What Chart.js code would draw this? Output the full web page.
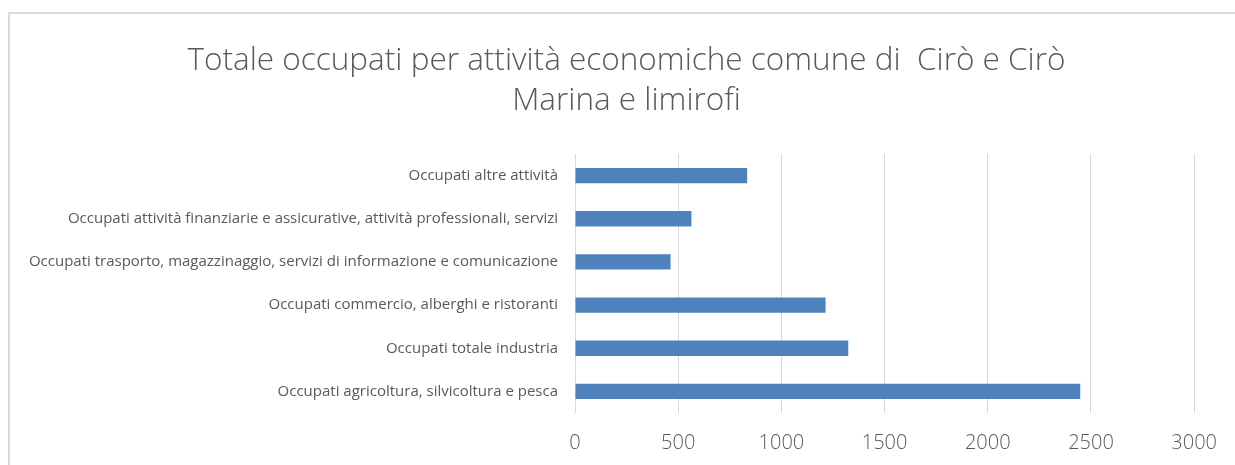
<!DOCTYPE html>
<html>
<head>
<meta charset="utf-8">
<script src="https://cdn.jsdelivr.net/npm/chart.js@4/dist/chart.umd.min.js"></script>
<style>
	html, body { margin: 0; padding: 0; background: #fff; overflow: hidden; width: 1235px; height: 465px; }
	.edge { position: absolute; background: #d9d9d9; }
	#edge-top  { left: 8px; top: 12px; width: 1227px; height: 2px; }
	#edge-left { left: 8px; top: 12px; width: 2px; height: 453px; }
	#wrap { position: absolute; left: 0; top: 0; width: 1235px; height: 465px; }
</style>
</head>
<body>
<div class="edge" id="edge-top"></div>
<div class="edge" id="edge-left"></div>
<div id="wrap"><canvas id="chart"></canvas></div>
<script>
// data
const categories = [
	'Occupati altre attività',
	'Occupati attività finanziarie e assicurative, attività professionali, servizi',
	'Occupati trasporto, magazzinaggio, servizi di informazione e comunicazione',
	'Occupati commercio, alberghi e ristoranti',
	'Occupati totale industria',
	'Occupati agricoltura, silvicoltura e pesca',
];
const occupati = [834, 564, 463, 1214, 1324, 2448];
const titleLines = ['Totale occupati per attività economiche comune di  Cirò e Cirò', 'Marina e limirofi'];

const grey = '#595959';

// the title in the picture is centred a bit right of the canvas middle
const shiftTitle = {
	id: 'shiftTitle',
	afterLayout (chart) {
		if (chart.titleBlock) {
			chart.titleBlock.left = 56;
		}
	},
};

new Chart('chart', {
	type: 'bar',
	data: {
		labels: categories,
		datasets: [{
			data: occupati,
			backgroundColor: '#4f81bd',
			borderWidth: 0,
			barPercentage: 0.355,
			categoryPercentage: 1,
		}],
	},
	options: {
		indexAxis: 'y',
		responsive: true,
		maintainAspectRatio: false,
		animation: false,
		layout: { padding: { left: 0, right: 38, top: 0, bottom: 0 } },
		plugins: {
			legend: { display: false },
			tooltip: { enabled: false },
			title: {
				display: true,
				text: titleLines,
				color: grey,
				font: { family: '"Open Sans", sans-serif', size: 31.5, weight: 300, lineHeight: 1.27 },
				padding: { top: 41, bottom: 33 },
			},
		},
		scales: {
			x: {
				min: 0,
				max: 3000,
				ticks: {
					stepSize: 500,
					color: grey,
					padding: 18,
					font: { family: '"Open Sans", sans-serif', size: 20, weight: 300 },
					callback: (v) => String(v),
				},
				grid: { color: '#d9d9d9', lineWidth: 1, drawTicks: false },
				border: { display: false },
				afterFit (scale) { scale.height = 52; },
			},
			y: {
				ticks: {
					color: grey,
					padding: 17,
					font: { family: '"Open Sans", sans-serif', size: 15 },
				},
				grid: { display: false, drawTicks: false },
				border: { display: false },
				afterFit (scale) { scale.width = 575; },
			},
		},
	},
	plugins: [shiftTitle],
});
</script>
</body>
</html>
